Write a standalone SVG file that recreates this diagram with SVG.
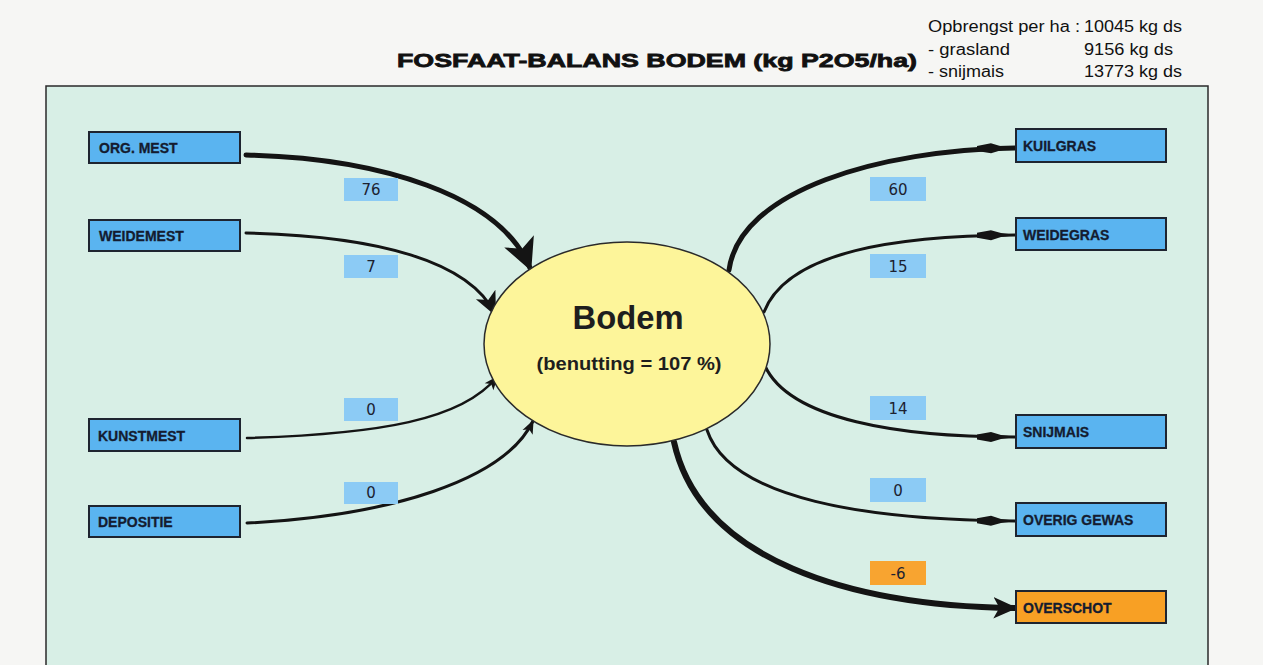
<svg xmlns="http://www.w3.org/2000/svg" width="1263" height="665" viewBox="0 0 1263 665">
<style>
.node rect{fill:#5ab4f0;stroke:#1e2430;stroke-width:2}
.node.orange rect{fill:#f8a024}
.node text{font-family:"Liberation Sans",Arial,sans-serif;font-weight:bold;font-size:14px;fill:#141c30;stroke:#141c30;stroke-width:0.3}
.lbl rect{fill:#8ccbf5}
.lbl.orange rect{fill:#f8a430}
.lbl text{font-family:"DejaVu Sans","Liberation Sans",sans-serif;font-size:15px;fill:#1c2230;text-anchor:middle}
.info{font-family:"Liberation Sans",Arial,sans-serif;font-size:16px;fill:#111}
#connectors path{fill:none;stroke:#141414;stroke-linecap:round}
</style>
<defs>
<marker id="ahBig" markerUnits="userSpaceOnUse" markerWidth="32" markerHeight="32" refX="18" refY="10" orient="auto" viewBox="0 0 20 20">
<path d="M0,0 L20,10 L0,20 L5,10 Z" fill="#141414"/>
</marker>
<marker id="ahMid" markerUnits="userSpaceOnUse" markerWidth="24" markerHeight="24" refX="18" refY="10" orient="auto" viewBox="0 0 20 20">
<path d="M0,1 L20,10 L0,19 L5,10 Z" fill="#141414"/>
</marker>
<marker id="ahSmall" markerUnits="userSpaceOnUse" markerWidth="16" markerHeight="14" refX="18" refY="10" orient="auto" viewBox="0 0 20 20">
<path d="M0,2 L20,10 L0,18 L5,10 Z" fill="#141414"/>
</marker>
<marker id="ahLong" markerUnits="userSpaceOnUse" markerWidth="40" markerHeight="14" refX="38" refY="7" orient="auto" viewBox="0 0 40 14">
<path d="M0,4.5 L14,2 L24,5 L40,7 L24,9 L14,12 L0,9.5 Z" fill="#141414"/>
</marker>
</defs>
<rect x="0" y="0" width="1263" height="665" fill="#f6f6f4"/>
<rect id="panel" x="46" y="86" width="1162" height="580" fill="#d8efe6" stroke="#2a2a2a" stroke-width="1.5"/>
<g id="title">
<text x="397" y="67" font-family="'Liberation Sans',Arial,sans-serif" font-weight="bold" font-size="19" fill="#111" stroke="#111" stroke-width="0.8" textLength="520" lengthAdjust="spacingAndGlyphs">FOSFAAT-BALANS BODEM (kg P2O5/ha)</text>
</g>
<g id="yield-info">
<text class="info" x="928" y="32" textLength="152" lengthAdjust="spacingAndGlyphs">Opbrengst per ha :</text>
<text class="info" x="1084" y="32" textLength="98" lengthAdjust="spacingAndGlyphs">10045 kg ds</text>
<text class="info" x="928" y="55" textLength="82" lengthAdjust="spacingAndGlyphs">- grasland</text>
<text class="info" x="1084" y="55" textLength="89" lengthAdjust="spacingAndGlyphs">9156 kg ds</text>
<text class="info" x="928" y="77" textLength="76" lengthAdjust="spacingAndGlyphs">- snijmais</text>
<text class="info" x="1084" y="77" textLength="98" lengthAdjust="spacingAndGlyphs">13773 kg ds</text>
</g>
<g id="connectors">
<path d="M246,155 C380,158 500,195 530,268" stroke-width="5" marker-end="url(#ahBig)"/>
<path d="M246,233 C380,236 470,262 495,314" stroke-width="3" marker-end="url(#ahMid)"/>
<path d="M247,438 C380,434 462,420 497,377" stroke-width="2.5" marker-end="url(#ahSmall)"/>
<path d="M247,523 C390,516 505,480 533,421" stroke-width="3" marker-end="url(#ahSmall)"/>
<path d="M729,270 C740,190 880,150 1015,148" stroke-width="5" marker-end="url(#ahLong)"/>
<path d="M764,312 C788,250 900,236 1015,235" stroke-width="3" marker-end="url(#ahLong)"/>
<path d="M765,366 C790,420 900,437 1015,437" stroke-width="3" marker-end="url(#ahLong)"/>
<path d="M707,430 C730,500 870,520 1015,521" stroke-width="3" marker-end="url(#ahLong)"/>
<path d="M674,442 C700,560 850,606 1015,608" stroke-width="6" marker-end="url(#ahMid)"/>
</g>
<g id="bodem">
<ellipse cx="627" cy="344" rx="143" ry="102" fill="#fdf59a" stroke="#2a2a2a" stroke-width="1.5"/>
<text x="628" y="329" text-anchor="middle" font-family="'Liberation Sans',Arial,sans-serif" font-weight="bold" font-size="34" fill="#1e1e1e" textLength="111" lengthAdjust="spacingAndGlyphs">Bodem</text>
<text x="629" y="370" text-anchor="middle" font-family="'Liberation Sans',Arial,sans-serif" font-weight="bold" font-size="18" fill="#1e1e1e" textLength="185" lengthAdjust="spacingAndGlyphs">(benutting = 107 %)</text>
</g>
<g id="org-mest" class="node"><rect x="89" y="132" width="151" height="31"/><text x="99" y="153">ORG. MEST</text></g>
<g id="weidemest" class="node"><rect x="89" y="220" width="151" height="31"/><text x="99" y="241">WEIDEMEST</text></g>
<g id="kunstmest" class="node"><rect x="89" y="419" width="151" height="32"/><text x="98" y="441">KUNSTMEST</text></g>
<g id="depositie" class="node"><rect x="89" y="506" width="151" height="31"/><text x="98" y="527">DEPOSITIE</text></g>
<g id="kuilgras" class="node"><rect x="1016" y="129" width="150" height="33"/><text x="1023" y="151">KUILGRAS</text></g>
<g id="weidegras" class="node"><rect x="1016" y="218" width="150" height="32"/><text x="1023" y="240">WEIDEGRAS</text></g>
<g id="snijmais" class="node"><rect x="1016" y="415" width="150" height="33"/><text x="1023" y="437">SNIJMAIS</text></g>
<g id="overig-gewas" class="node"><rect x="1016" y="503" width="150" height="33"/><text x="1023" y="525">OVERIG GEWAS</text></g>
<g id="overschot" class="node orange"><rect x="1016" y="591" width="150" height="32"/><text x="1023" y="613">OVERSCHOT</text></g>
<g id="labels">
<g class="lbl"><rect x="344" y="178" width="54" height="23"/><text x="371" y="195">76</text></g>
<g class="lbl"><rect x="344" y="255" width="54" height="23"/><text x="371" y="272">7</text></g>
<g class="lbl"><rect x="344" y="398" width="54" height="23"/><text x="371" y="415">0</text></g>
<g class="lbl"><rect x="344" y="482" width="54" height="22"/><text x="371" y="498">0</text></g>
<g class="lbl"><rect x="870" y="177" width="56" height="24"/><text x="898" y="195">60</text></g>
<g class="lbl"><rect x="870" y="254" width="56" height="24"/><text x="898" y="272">15</text></g>
<g class="lbl"><rect x="870" y="396" width="56" height="24"/><text x="898" y="414">14</text></g>
<g class="lbl"><rect x="870" y="478" width="56" height="24"/><text x="898" y="496">0</text></g>
<g class="lbl orange"><rect x="870" y="561" width="56" height="24"/><text x="898" y="579">-6</text></g>
</g>
</svg>
